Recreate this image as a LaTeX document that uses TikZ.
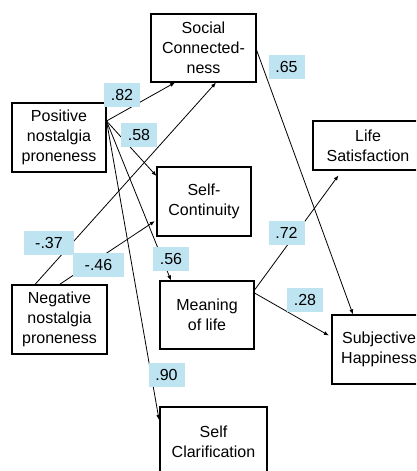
\documentclass[tikz,border=0pt]{standalone}
\usepackage{fontspec}
\setmainfont{Liberation Sans}
\usetikzlibrary{arrows.meta}
\definecolor{weightBlue}{RGB}{190,228,242}

\begin{document}
\begin{tikzpicture}
[x=1pt,y=-1pt,
  every node/.style={inner sep=0pt,align=center,font=\fontsize{16}{20}\selectfont},%
  boxNode/.style={draw,line width=1.1pt,minimum width=#1,minimum height=69pt},
  weightLabel/.style={fill=weightBlue,minimum width=36pt,minimum height=24pt},
  lineDecorate/.style={-{Latex[length=5pt,width=4pt]},line width=0.8pt}]
\clip (0,0) rectangle (416,471);
\node[boxNode=105pt,minimum height=68pt](social) at (203.5,48) {Social\\Connected-\\ness};
\node[boxNode=94pt](positive) at (59,137.5) {Positive\\nostalgia\\proneness};
\node[boxNode=110pt,minimum height=49pt](lifesat) at (368,145.5) {Life\\Satisfaction};
\node[boxNode=94pt](continuity) at (204,201.5) {Self-\\Continuity};
\node[boxNode=95pt](negative) at (59.5,319.5) {Negative\\nostalgia\\proneness};
\node[boxNode=94pt,minimum height=68pt](meaning) at (207,315) {Meaning\\of life};
\node[boxNode=94pt](subjective) at (379,349.5) {Subjective\\Happiness};
\node[boxNode=107pt](clarify) at (213.5,441.5) {Self\\Clarification};
\path
\foreach \startNode/\sx/\sy/\endNode/\ex/\ey/\gap in {
  positive.east/0pt/16.5pt/social.south/-28.5pt/0pt/0pt,
  positive.east/0pt/16.5pt/continuity.west/0pt/25.5pt/0pt,
  positive.east/0pt/16.5pt/meaning.north/-36pt/0pt/0pt,
  positive.east/0pt/16.5pt/clarify.west/0pt/19.5pt/2pt,
  negative.north/-24.5pt/0pt/social.south/12.5pt/0pt/0pt,
  negative.north/0pt/0pt/continuity.west/0pt/-18.5pt/2pt,
  meaning.east/0pt/25pt/lifesat.south/-26pt/0pt/6pt,
  meaning.east/0pt/22pt/subjective.west/0pt/12.5pt/3pt,
  social.east/0pt/-2pt/subjective.north/-26pt/0pt/0pt}
{
  ([xshift=\sx,yshift=\sy]\startNode) edge[lineDecorate,shorten >=\gap]
  ([xshift=\ex,yshift=\ey]\endNode)
};
% path coefficients
\node[weightLabel](w82) at (122,95) {.82};
\node[weightLabel](w58) at (139,135) {.58};
\node[weightLabel](w65) at (286.5,66.5) {.65};
\node[weightLabel](w72) at (286.5,232.5) {.72};
\node[weightLabel,minimum width=50pt](w37) at (49,242.5) {-.37};
\node[weightLabel,minimum width=51pt](w46) at (98.5,264.5) {-.46};
\node[weightLabel](w56) at (171,258.5) {.56};
\node[weightLabel](w28) at (305,299.5) {.28};
\node[weightLabel](w90) at (166.5,375) {.90};
\end{tikzpicture}
\end{document}
